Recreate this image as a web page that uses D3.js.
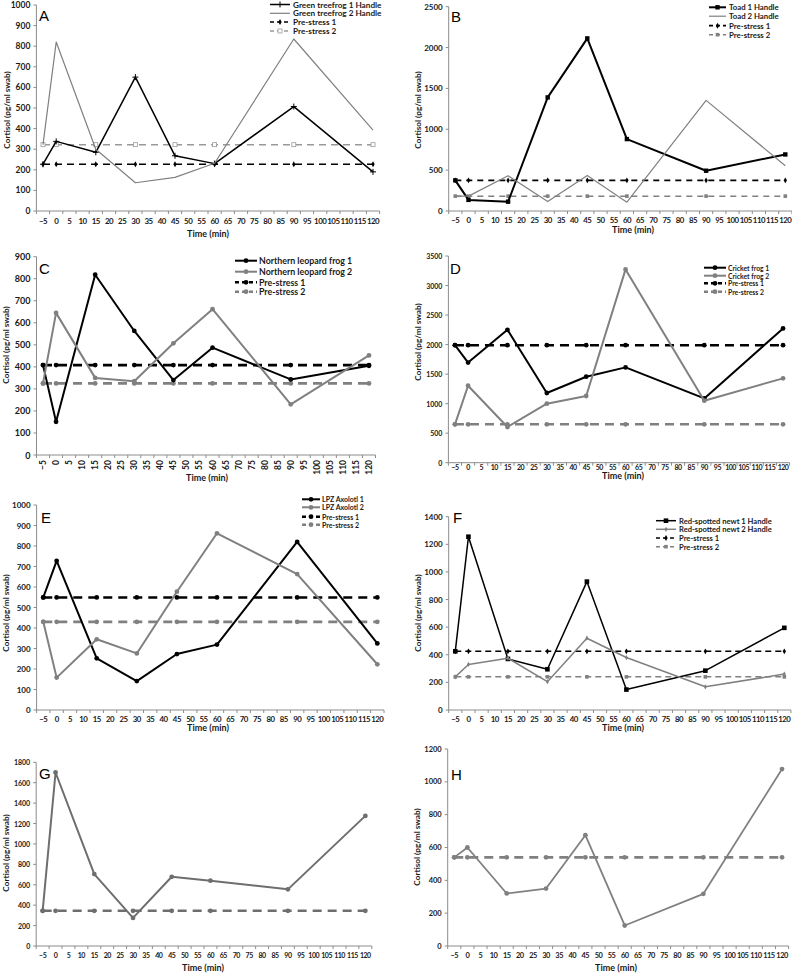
<!DOCTYPE html>
<html lang="en">
<head>
<meta charset="UTF-8">
<title>Cortisol after handling</title>
<style>
body { margin: 0; background: #fff; }
svg text { font-family: Lato, "Open Sans", sans-serif; fill: #1a1a1a; }
.bold { font-weight: 700; }
.xt { letter-spacing: -0.5px; }
.letter { font-family: "Liberation Sans", Arial, sans-serif !important; fill: #000; }
</style>
</head>
<body>
<svg id="chart" width="792" height="973"></svg>
<script src="https://cdn.jsdelivr.net/npm/d3@7/dist/d3.min.js"></script>
<script>

// x categories on every panel (Excel category axis)
const categories = ["-5","0","5","10","15","20","25","30","35","40","45","50","55","60",
	"65","70","75","80","85","90","95","100","105","110","115","120"];
// times that were sampled
const times = ["-5","0","15","30","45","60","90","120"];

// A - green treefrog
const aFrog1 = [227, 338, 285, 650, 268, 230, 507, 190];
const aFrog2 = [322, 820, 300, 137, 163, 232, 835, 393];
const aPre1  = [227, 227, 227, 227, 227, 227, 227, 227];
const aPre2  = [322, 322, 322, 322, 322, 322, 322, 322];
const aTicks = [0, 100, 200, 300, 400, 500, 600, 700, 800, 900, 1000];

// B - toad
const bToad1 = [375, 136, 114, 1390, 2112, 880, 493, 692];
const bToad2 = [182, 182, 431, 116, 435, 108, 1354, 554];
const bPre1  = [375, 375, 375, 375, 375, 375, 375, 375];
const bPre2  = [182, 182, 182, 182, 182, 182, 182, 182];
const bTicks = [0, 500, 1000, 1500, 2000, 2500];

// C - northern leopard frog
const cFrog1 = [408, 151, 818, 563, 340, 487, 343, 405];
const cFrog2 = [325, 645, 350, 335, 507, 662, 230, 452];
const cPre1  = [408, 408, 408, 408, 408, 408, 408, 408];
const cPre2  = [325, 325, 325, 325, 325, 325, 325, 325];
const cTicks = [0, 100, 200, 300, 400, 500, 600, 700, 800, 900];

// D - cricket frog
const dFrog1 = [1990, 1695, 2250, 1180, 1456, 1614, 1089, 2274];
const dFrog2 = [650, 1303, 604, 999, 1129, 3273, 1050, 1428];
const dPre1  = [1990, 1990, 1990, 1990, 1990, 1990, 1990, 1990];
const dPre2  = [650, 650, 650, 650, 650, 650, 650, 650];
const dTicks = [0, 500, 1000, 1500, 2000, 2500, 3000, 3500];

// E - LPZ axolotl
const eAxo1 = [549, 727, 252, 141, 273, 319, 820, 325];
const eAxo2 = [430, 158, 345, 276, 577, 862, 663, 223];
const ePre1 = [549, 549, 549, 549, 549, 549, 549, 549];
const ePre2 = [430, 430, 430, 430, 430, 430, 430, 430];
const eTicks = [0, 100, 200, 300, 400, 500, 600, 700, 800, 900, 1000];

// F - red-spotted newt
const fNewt1 = [425, 1255, 370, 295, 930, 148, 285, 595];
const fNewt2 = [240, 330, 375, 205, 520, 380, 168, 260];
const fPre1  = [425, 425, 425, 425, 425, 425, 425, 425];
const fPre2  = [240, 240, 240, 240, 240, 240, 240, 240];
const fTicks = [0, 200, 400, 600, 800, 1000, 1200, 1400];

// G
const gSeries = [345, 1700, 705, 275, 678, 640, 555, 1275];
const gPre    = [345, 345, 345, 345, 345, 345, 345, 345];
const gTicks  = [0, 200, 400, 600, 800, 1000, 1200, 1400, 1600, 1800];

// H
const hSeries = [540, 600, 320, 350, 675, 125, 318, 1078];
const hPre    = [540, 540, 540, 540, 540, 540, 540, 540];
const hTicks  = [0, 200, 400, 600, 800, 1000, 1200];

const BLACK = "#000";
const GRAY = "#808080";

const panels = [
	{letter: "A", letterAt: [39, 21], left: 36.4, right: 379.6, top: 5, bottom: 211, yTicks: aTicks, fs: 8.5, xfs: 7.9,
	 tickY: 223.5, title: [208, 237], ylab: [7, 110],
	 legend: {x1: 270, x2: 290, tx: 293, rows: [4.5, 13.3, 22, 31], fs: 8.2},
	 series: [
		{name: "Green treefrog 1 Handle", v: aFrog1, c: BLACK, w: 1.5, m: "plus", ms: 3},
		{name: "Green treefrog 2 Handle", v: aFrog2, c: GRAY, w: 1.2},
		{name: "Pre-stress 1", v: aPre1, c: BLACK, w: 1.5, dash: "7,5", m: "diamond", ms: 5},
		{name: "Pre-stress 2", v: aPre2, c: "#999", w: 1.5, dash: "7,5", m: "squareOpen", ms: 2}
	 ]},
	{letter: "B", letterAt: [451, 22], left: 448.7, right: 791.9, top: 6.7, bottom: 211, yTicks: bTicks, fs: 8, xfs: 7.8,
	 tickY: 223, title: [633, 232.5], ylab: [418, 110],
	 legend: {x1: 709, x2: 726, tx: 729, rows: [7.3, 16.2, 25.7, 34.7], fs: 7.8},
	 series: [
		{name: "Toad 1 Handle", v: bToad1, c: BLACK, w: 2, m: "square", ms: 2.2},
		{name: "Toad 2 Handle", v: bToad2, c: GRAY, w: 1.2},
		{name: "Pre-stress 1", v: bPre1, c: BLACK, w: 1.8, dash: "6,5", m: "diamond", ms: 5},
		{name: "Pre-stress 2", v: bPre2, c: GRAY, w: 1.5, dash: "6,5", m: "square", ms: 1.8}
	 ]},
	{letter: "C", letterAt: [39, 273.5], left: 36.5, right: 375.5, top: 256.7, bottom: 455, yTicks: cTicks, fs: 9, xfs: 8.5,
	 tickY: 460, rotate: true, title: [207, 481], ylab: [6, 345],
	 legend: {x1: 235, x2: 257, tx: 259, rows: [260.7, 271.7, 282.3, 291.7], fs: 8.8},
	 series: [
		{name: "Northern leopard frog 1", v: cFrog1, c: BLACK, w: 2, m: "circle", ms: 2.4},
		{name: "Northern leopard frog 2", v: cFrog2, c: GRAY, w: 2, m: "circle", ms: 2.4},
		{name: "Pre-stress 1", v: cPre1, c: BLACK, w: 2.6, dash: "9,6", m: "circle", ms: 2.4},
		{name: "Pre-stress 2", v: cPre2, c: GRAY, w: 2.6, dash: "9,6", m: "circle", ms: 2.4}
	 ]},
	{letter: "D", letterAt: [450, 274], left: 448.4, right: 789.6, top: 256, bottom: 462.7, yTicks: dTicks, fs: 7, xfs: 7,
	 tickY: 470, title: [623, 479], ylab: [418, 342],
	 legend: {x1: 704, x2: 726, tx: 728, rows: [267.7, 275.7, 283.3, 291.7], fs: 6.8},
	 series: [
		{name: "Cricket frog 1", v: dFrog1, c: BLACK, w: 2, m: "circle", ms: 2.4},
		{name: "Cricket frog 2", v: dFrog2, c: GRAY, w: 2, m: "circle", ms: 2.4},
		{name: "Pre-stress 1", v: dPre1, c: BLACK, w: 2.6, dash: "9,6", m: "circle", ms: 2.4},
		{name: "Pre-stress 2", v: dPre2, c: GRAY, w: 2.6, dash: "9,6", m: "circle", ms: 2.4}
	 ]},
	{letter: "E", letterAt: [41, 522.5], left: 36.6, right: 384, top: 505, bottom: 710, yTicks: eTicks, fs: 8, xfs: 7.8,
	 tickY: 721.5, title: [208, 731], ylab: [6, 613],
	 legend: {x1: 302, x2: 320, tx: 322, rows: [499.3, 507.3, 516.7, 524.7], fs: 7},
	 series: [
		{name: "LPZ Axolotl 1", v: eAxo1, c: BLACK, w: 2, m: "circle", ms: 2.4},
		{name: "LPZ Axolotl 2", v: eAxo2, c: GRAY, w: 2, m: "circle", ms: 2.4},
		{name: "Pre-stress 1", v: ePre1, c: BLACK, w: 2.6, dash: "9,6", m: "circle", ms: 2.4},
		{name: "Pre-stress 2", v: ePre2, c: GRAY, w: 2.6, dash: "9,6", m: "circle", ms: 2.4}
	 ]},
	{letter: "F", letterAt: [453, 522.5], left: 448.7, right: 790.9, top: 516.7, bottom: 710, yTicks: fTicks, fs: 8, xfs: 7.8,
	 tickY: 721.5, title: [623, 731], ylab: [418, 613],
	 legend: {x1: 656, x2: 676, tx: 679, rows: [520.7, 529.3, 538, 546.7], fs: 7.6},
	 series: [
		{name: "Red-spotted newt 1 Handle", v: fNewt1, c: BLACK, w: 1.5, m: "square", ms: 2.3},
		{name: "Red-spotted newt 2 Handle", v: fNewt2, c: GRAY, w: 1.5, m: "diamond", ms: 4},
		{name: "Pre-stress 1", v: fPre1, c: BLACK, w: 1.5, dash: "6,4", m: "diamond", ms: 5},
		{name: "Pre-stress 2", v: fPre2, c: GRAY, w: 1.5, dash: "6,4", m: "square", ms: 1.8}
	 ]},
	{letter: "G", letterAt: [39, 779], left: 36.2, right: 371.8, top: 762.3, bottom: 946, yTicks: gTicks, fs: 7, xfs: 7,
	 tickY: 958, title: [203, 971], ylab: [6, 853],
	 series: [
		{v: gSeries, c: "#6e6e6e", w: 2, m: "circle", ms: 2.4},
		{v: gPre, c: "#6e6e6e", w: 2.6, dash: "9,6", m: "circle", ms: 2.4}
	 ]},
	{letter: "H", letterAt: [451, 780], left: 447.7, right: 788.6, top: 749, bottom: 946, yTicks: hTicks, fs: 7.5, xfs: 7.4,
	 tickY: 958, title: [616, 971], ylab: [417, 847],
	 series: [
		{v: hSeries, c: GRAY, w: 1.8, m: "circle", ms: 2.4},
		{v: hPre, c: GRAY, w: 2.6, dash: "9,6", m: "circle", ms: 2.4}
	 ]}
];

const svg = d3.select("#chart");

function drawMarker(g, s, cx, cy) {
	if (!s.m) return;
	if (s.m === "circle") {
		g.append("circle").attr("cx", cx).attr("cy", cy).attr("r", s.ms).attr("fill", s.c);
	} else if (s.m === "square") {
		g.append("rect").attr("x", cx - s.ms).attr("y", cy - s.ms)
			.attr("width", s.ms * 2).attr("height", s.ms * 2).attr("fill", s.c);
	} else if (s.m === "squareOpen") {
		g.append("rect").attr("x", cx - s.ms).attr("y", cy - s.ms)
			.attr("width", s.ms * 2).attr("height", s.ms * 2)
			.attr("fill", "#fff").attr("stroke", s.c).attr("stroke-width", 0.8);
	} else if (s.m === "diamond") {
		g.append("path").attr("d", d3.symbol(d3.symbolDiamond, s.ms * 2)())
			.attr("transform", `translate(${cx},${cy})`).attr("fill", s.c);
	} else if (s.m === "plus") {
		const k = s.ms;
		g.append("path").attr("d", `M${cx - k},${cy}H${cx + k}M${cx},${cy - k}V${cy + k}`)
			.attr("stroke", s.c).attr("stroke-width", 1);
	}
}

panels.forEach(p => {
	const g = svg.append("g");
	const yMax = p.yTicks[p.yTicks.length - 1];

	const x = d3.scalePoint().domain(categories).range([p.left, p.right]).padding(0.5);
	const y = d3.scaleLinear().domain([0, yMax]).range([p.bottom, p.top]);
	const step = x.step();

	// y axis
	g.append("line").attr("x1", p.left).attr("x2", p.left).attr("y1", p.top).attr("y2", p.bottom)
		.attr("stroke", "#8c8c8c");
	p.yTicks.forEach(t => {
		g.append("line").attr("x1", p.left - 3).attr("x2", p.left)
			.attr("y1", y(t)).attr("y2", y(t)).attr("stroke", "#8c8c8c");
		g.append("text").attr("class", "bold").attr("x", p.left - 6).attr("y", y(t))
			.attr("text-anchor", "end").attr("dominant-baseline", "central")
			.attr("font-size", p.fs).text(t);
	});

	// x axis
	g.append("line").attr("x1", p.left).attr("x2", p.right).attr("y1", p.bottom).attr("y2", p.bottom)
		.attr("stroke", "#8c8c8c");
	categories.forEach((c, i) => {
		const bx = x(c) - step / 2;
		g.append("line").attr("x1", bx).attr("x2", bx).attr("y1", p.bottom).attr("y2", p.bottom + 3)
			.attr("stroke", "#8c8c8c");
		const lab = c.replace("-", "\u2212");
		if (p.rotate) {
			g.append("text").attr("class", "bold")
				.attr("transform", `translate(${x(c)},${p.tickY}) rotate(-90)`)
				.attr("text-anchor", "end").attr("dominant-baseline", "central")
				.attr("font-size", p.xfs).text(lab);
		} else {
			g.append("text").attr("class", "bold xt").attr("x", x(c)).attr("y", p.tickY)
				.attr("text-anchor", "middle").attr("font-size", p.xfs).text(lab);
		}
	});
	g.append("line").attr("x1", p.right).attr("x2", p.right).attr("y1", p.bottom).attr("y2", p.bottom + 3)
		.attr("stroke", "#8c8c8c");

	// axis titles
	g.append("text").attr("class", "bold").attr("x", p.title[0]).attr("y", p.title[1])
		.attr("text-anchor", "middle").attr("font-size", 9).text("Time (min)");
	g.append("text").attr("class", "bold")
		.attr("transform", `translate(${p.ylab[0]},${p.ylab[1]}) rotate(-90)`)
		.attr("text-anchor", "middle").attr("dominant-baseline", "central")
		.attr("font-size", 8.2).text("Cortisol (pg/ml swab)");

	// series: dashed baselines drawn first
	const line = d3.line().x(d => x(d.t)).y(d => y(d.v));
	const order = p.series.slice().sort((a, b) => (b.dash ? 1 : 0) - (a.dash ? 1 : 0));
	order.forEach(s => {
		const pts = times.map((t, i) => ({t: t, v: s.v[i]}));
		g.append("path").attr("d", line(pts)).attr("fill", "none")
			.attr("stroke", s.c).attr("stroke-width", s.w)
			.attr("stroke-dasharray", s.dash || null).attr("stroke-linejoin", "round");
		pts.forEach(d => drawMarker(g, s, x(d.t), y(d.v)));
	});

	// legend
	if (p.legend) {
		const L = p.legend;
		p.series.forEach((s, i) => {
			const ry = L.rows[i];
			g.append("line").attr("x1", L.x1).attr("x2", L.x2).attr("y1", ry).attr("y2", ry)
				.attr("stroke", s.c).attr("stroke-width", s.w)
				.attr("stroke-dasharray", s.dash ? "4,3" : null);
			drawMarker(g, s, (L.x1 + L.x2) / 2, ry);
			g.append("text").attr("class", "bold").attr("x", L.tx).attr("y", ry)
				.attr("dominant-baseline", "central").attr("font-size", L.fs).text(s.name);
		});
	}

	// panel letter
	g.append("text").attr("class", "letter").attr("x", p.letterAt[0]).attr("y", p.letterAt[1])
		.attr("font-size", 15).text(p.letter);
});

</script>
</body>
</html>
